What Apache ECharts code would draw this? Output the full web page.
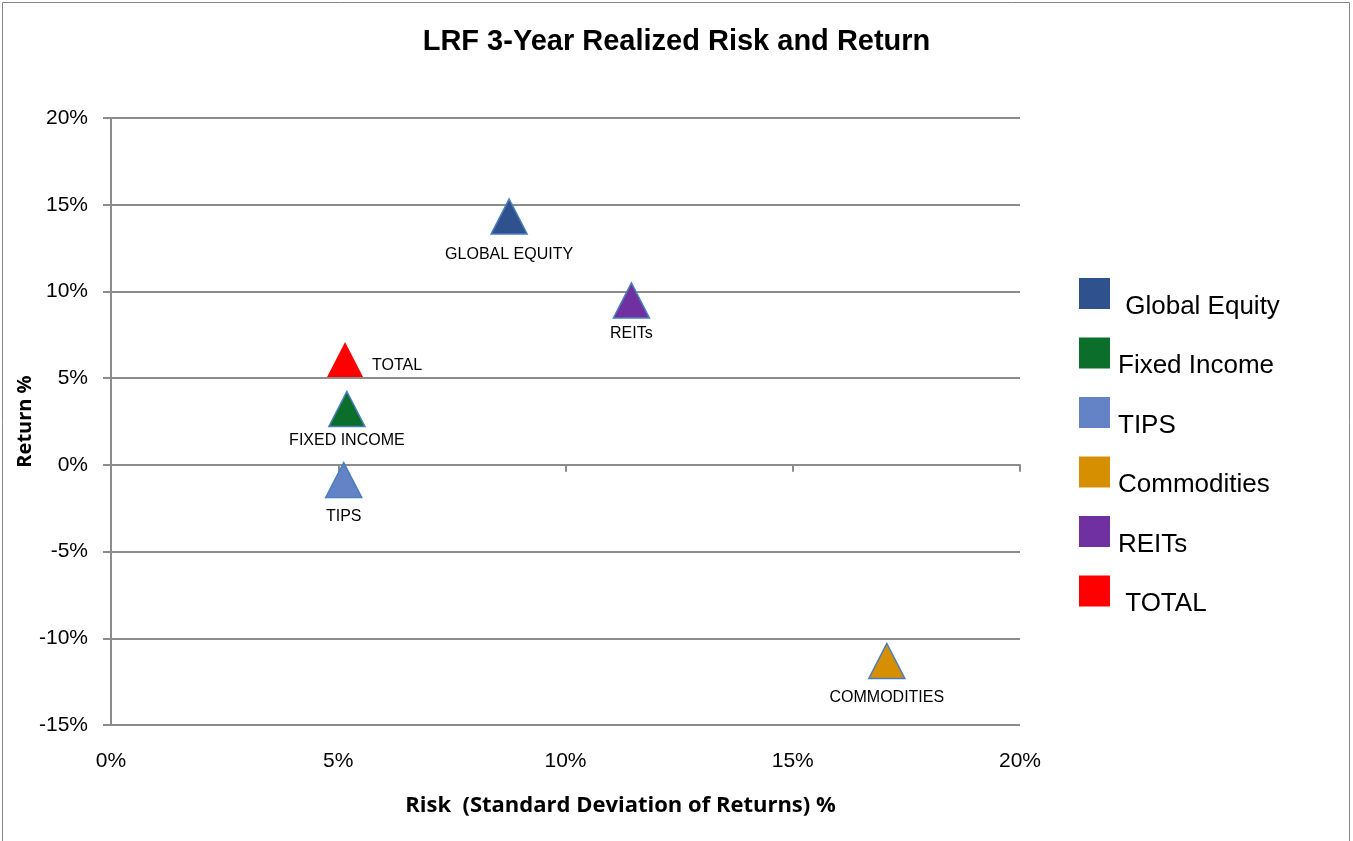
<!DOCTYPE html>
<html>
<head>
<meta charset="utf-8">
<title>LRF 3-Year Realized Risk and Return</title>
<script src="https://cdn.jsdelivr.net/npm/echarts@6/dist/echarts.min.js"></script>
<style>
	html, body {
		margin: 0;
		padding: 0;
		background: #fff;
	}
	#main {
		width: 1353px;
		height: 841px;
	}
</style>
</head>
<body>
<div id="main"></div>
<script>
	// 数据
	const seriesNames = [' Global Equity', 'Fixed Income', 'TIPS', 'Commodities', 'REITs', ' TOTAL']
	const pointLabels = ['GLOBAL EQUITY', 'FIXED INCOME', 'TIPS', 'COMMODITIES', 'REITs', 'TOTAL']
	const riskValues = [8.76, 5.19, 5.12, 17.07, 11.45, 5.15]
	const returnValues = [14.32, 3.22, -0.88, -11.31, 9.48, 6.08]
	const colors = ['#2f528f', '#0b6e2b', '#6383c6', '#d68f00', '#7030a0', '#ff0000']
	const xTicks = [0, 5, 10, 15, 20]
	const yTicks = [-15, -10, -5, 0, 5, 10, 15, 20]

	// 标签位置
	const labelPos = ['bottom', 'bottom', 'bottom', 'bottom', 'bottom', 'right']
	const labelDist = [12, 5, 10, 10, 7, 9]

	const gray = '#8c8c8c'
	const fontFamily = '"Liberation Sans", Arial, sans-serif'

	const myChart = echarts.init(document.getElementById('main'))

	const series = seriesNames.map((name, i) => ({
		name: name,
		type: 'scatter',
		symbol: 'triangle',
		symbolSize: [36, 35],
		itemStyle: {
			color: colors[i],
			opacity: 1,
			borderColor: i === 5 ? colors[i] : '#4a7ebb',
			borderWidth: i === 5 ? 0 : 1.5
		},
		label: {
			show: true,
			position: labelPos[i],
			distance: labelDist[i],
			offset: i === 5 ? [0, 6] : [0, 0],
			formatter: pointLabels[i],
			color: '#000',
			fontSize: 16,
			fontFamily: fontFamily
		},
		emphasis: { disabled: true },
		data: [[riskValues[i], returnValues[i]]]
	}))

	const option = {
		animation: false,
		title: {
			text: 'LRF 3-Year Realized Risk and Return',
			left: 'center',
			top: 22,
			textStyle: {
				fontSize: 29,
				fontWeight: 'bold',
				color: '#000',
				fontFamily: fontFamily
			}
		},
		legend: {
			orient: 'vertical',
			left: 1074,
			top: 273,
			itemWidth: 31,
			itemHeight: 31,
			itemGap: 18,
			icon: 'rect',
			data: seriesNames,
			itemStyle: { borderWidth: 0, opacity: 1 },
			formatter: n => '{t|' + n + '}',
			textStyle: {
				color: '#000',
				rich: {
					t: {
						fontSize: 26,
						color: '#000',
						fontFamily: fontFamily,
						padding: [26, 0, 0, 3]
					}
				}
			}
		},
		graphic: [{
			type: 'rect',
			shape: { x: 2.5, y: 2.5, width: 1347, height: 900 },
			style: { fill: 'none', stroke: '#868686', lineWidth: 1 },
			silent: true
		}],
		grid: {
			left: 111,
			right: 333,
			top: 118,
			bottom: 116
		},
		xAxis: [{
			type: 'value',
			min: xTicks[0],
			max: xTicks[xTicks.length - 1],
			interval: 5,
			position: 'bottom',
			name: 'Risk  (Standard Deviation of Returns) %',
			nameLocation: 'middle',
			nameGap: 70,
			nameTextStyle: {
				fontSize: 22,
				fontWeight: 'bold',
				color: '#000',
				fontFamily: '"Open Sans", sans-serif',
				padding: [0, 0, 0, 110]
			},
			axisLine: { show: false, onZero: false },
			axisTick: { show: false },
			splitLine: { show: false },
			axisLabel: {
				margin: 26,
				fontSize: 21,
				color: '#000',
				fontFamily: fontFamily,
				formatter: v => v + '%'
			}
		}, {
			// 零线上的刻度
			type: 'value',
			min: xTicks[0],
			max: xTicks[xTicks.length - 1],
			interval: 5,
			position: 'bottom',
			axisLine: { show: true, onZero: true, lineStyle: { color: gray, width: 2 } },
			axisTick: { show: true, inside: false, length: 7, lineStyle: { color: gray, width: 2 } },
			axisLabel: { show: false },
			splitLine: { show: false }
		}],
		yAxis: {
			type: 'value',
			min: yTicks[0],
			max: yTicks[yTicks.length - 1],
			interval: 5,
			name: 'Return %',
			nameLocation: 'middle',
			nameGap: 76,
			nameMoveOverlap: false,
			nameTextStyle: {
				fontSize: 20,
				fontWeight: 'bold',
				color: '#000',
				fontFamily: '"Open Sans", sans-serif'
			},
			axisLine: { show: true, lineStyle: { color: gray, width: 2 } },
			axisTick: { show: true, length: 8, lineStyle: { color: gray, width: 2 } },
			splitLine: { show: true, lineStyle: { color: gray, width: 2 } },
			axisLabel: {
				margin: 23,
				fontSize: 21,
				color: '#000',
				fontFamily: fontFamily,
				formatter: v => v + '%'
			}
		},
		series: series
	}

	myChart.setOption(option)
</script>
</body>
</html>
